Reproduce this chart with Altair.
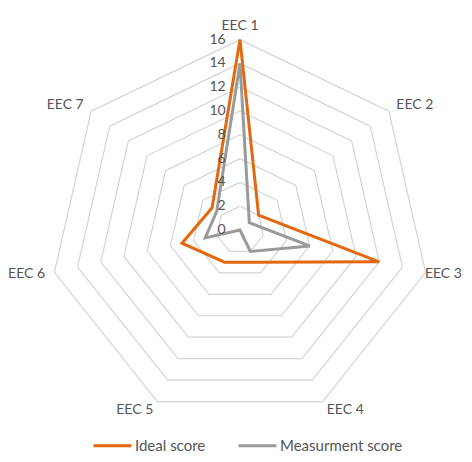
import altair as alt
import pandas as pd

categories = ["EEC 1", "EEC 2", "EEC 3", "EEC 4", "EEC 5", "EEC 6", "EEC 7"]
ideal_score = [16, 2, 12, 3, 3, 5, 3]
measurment_score = [14, 1, 6, 2, 0, 3, 2.5]
series_names = ["Ideal score", "Measurment score"]
ring_levels = [2, 4, 6, 8, 10, 12, 14, 16]
tick_labels = [0, 2, 4, 6, 8, 10, 12, 14, 16]

N = len(categories)
LABEL_R = 16.8
FONT = "Lato"
TXT = "#555555"

# series table (closed polygons)
rows = []
for name, vals in zip(series_names, [ideal_score, measurment_score]):
    for i in range(N + 1):
        k = i % N
        rows.append({"series": name, "idx": i, "cat": categories[k], "value": vals[k]})
series_df = pd.DataFrame(rows)

ring_rows = []
for lvl in ring_levels:
    for i in range(N + 1):
        ring_rows.append({"level": lvl, "idx": i, "value": lvl})
ring_df = pd.DataFrame(ring_rows)

label_df = pd.DataFrame({"cat": categories, "idx": list(range(N))})
tick_df = pd.DataFrame({"tick": tick_labels})

W, H = 456, 446
CX, CY, K = 232, 222, 11.9
xs = alt.Scale(domain=[-CX / K, (W - CX) / K], nice=False, zero=False)
ys = alt.Scale(domain=[-(H - CY) / K, CY / K], nice=False, zero=False)

ang = f"2*PI*datum.idx/{N}"

def polar(ch, rexpr):
    return ch.transform_calculate(
        px=f"({rexpr})*sin({ang})", py=f"({rexpr})*cos({ang})"
    )

rings = polar(alt.Chart(ring_df), "datum.value").mark_line(
    color="#d4d4d4", strokeWidth=1.2
).encode(
    x=alt.X("px:Q", scale=xs, axis=None),
    y=alt.Y("py:Q", scale=ys, axis=None),
    detail="level:N",
    order="idx:Q",
)

lines = polar(alt.Chart(series_df), "datum.value").mark_line(
    strokeWidth=3, strokeJoin="miter"
).encode(
    x=alt.X("px:Q", scale=xs, axis=None),
    y=alt.Y("py:Q", scale=ys, axis=None),
    order="idx:Q",
    color=alt.Color(
        "series:N",
        scale=alt.Scale(domain=series_names, range=["#E2690F", "#9A9A9A"]),
        legend=alt.Legend(
            title=None,
            orient="none",
            legendX=84,
            legendY=417,
            direction="horizontal",
            symbolType="stroke",
            symbolSize=1444,
            symbolStrokeWidth=3,
            labelFont=FONT,
            labelFontSize=15,
            labelColor=TXT,
            labelOffset=2,
            columnPadding=26,
        ),
    ),
)

base_lbl = polar(alt.Chart(label_df), str(LABEL_R)).encode(
    x=alt.X("px:Q", scale=xs, axis=None),
    y=alt.Y("py:Q", scale=ys, axis=None),
    text="cat:N",
)
lbl_top = base_lbl.transform_filter("datum.idx == 0").mark_text(
    font=FONT, fontSize=14, color=TXT, align="center", baseline="bottom", dy=3
)
lbl_right = base_lbl.transform_filter("datum.idx == 1 || datum.idx == 3").mark_text(
    font=FONT, fontSize=14, color=TXT, align="left", baseline="middle"
)
lbl_edge = base_lbl.transform_filter("datum.idx == 2").mark_text(
    font=FONT, fontSize=14, color=TXT, align="left", baseline="middle", dx=-10
)
lbl_left = base_lbl.transform_filter("datum.idx >= 4").mark_text(
    font=FONT, fontSize=14, color=TXT, align="right", baseline="middle"
)

ticks = alt.Chart(tick_df).transform_calculate(px="-1.2").mark_text(
    font=FONT, fontSize=14, color=TXT, align="right", baseline="middle"
).encode(
    x=alt.X("px:Q", scale=xs, axis=None),
    y=alt.Y("tick:Q", scale=ys, axis=None),
    text="tick:Q",
)

chart = alt.layer(rings, lines, ticks, lbl_top, lbl_right, lbl_edge, lbl_left).properties(
    width=W,
    height=H,
    autosize=alt.AutoSizeParams(type="none"),
    padding={"left": 0, "right": 0, "top": 0, "bottom": 0},
    background="white",
).configure_view(stroke=None)

chart.save("out.html", embed_options={"renderer": "svg", "actions": False})
